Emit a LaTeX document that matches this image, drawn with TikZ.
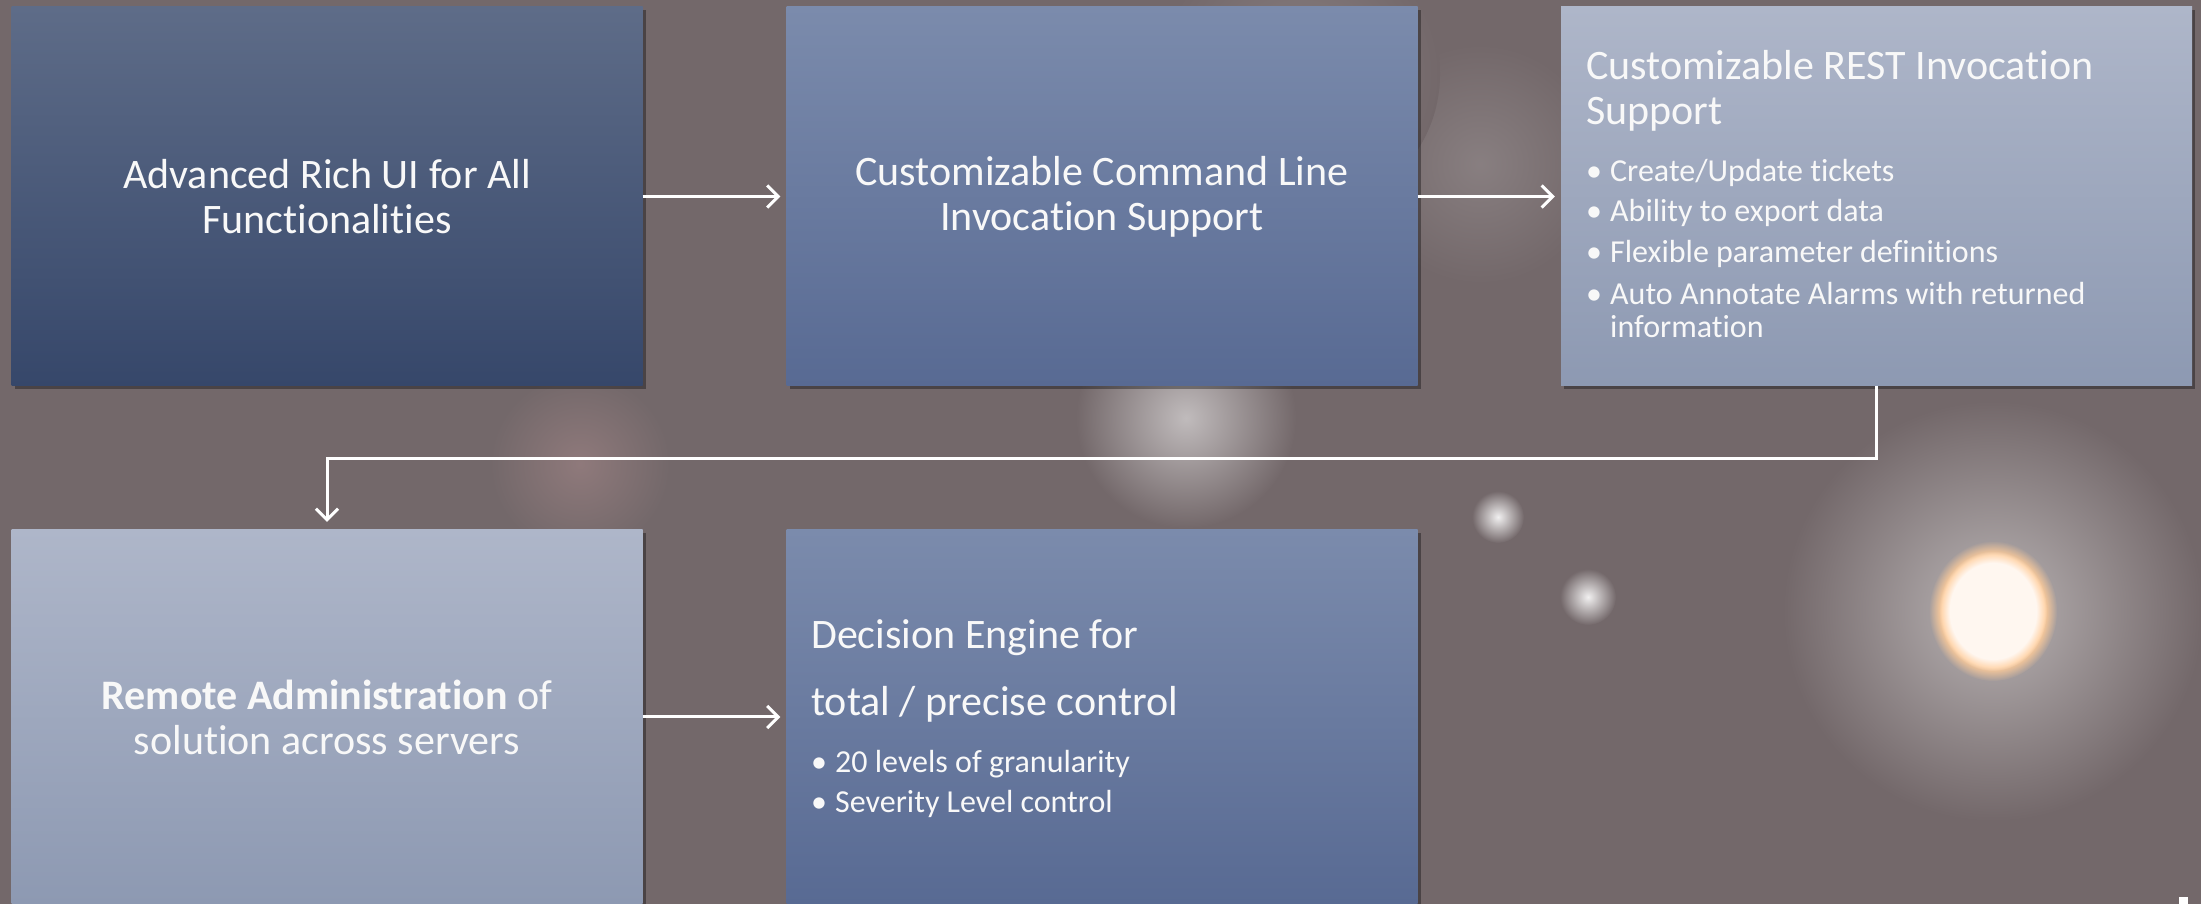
\documentclass[tikz,border=0pt]{standalone}
\usepackage{fontspec}
\setmainfont{Carlito}[Ligatures={NoCommon}]
\usetikzlibrary{arrows.meta,shadows,fadings}
\definecolor{bgc}{HTML}{73686A}
\definecolor{darkTop}{HTML}{5E6C88}
\definecolor{darkBot}{HTML}{36476A}
\definecolor{midTop}{HTML}{7B8BAC}
\definecolor{midBot}{HTML}{586A93}
\definecolor{lightTop}{HTML}{AEB6C9}
\definecolor{lightBot}{HTML}{8D99B2}
\definecolor{txt}{HTML}{F8F8F8}
\begin{document}
\begin{tikzpicture}[x=1pt,y=1pt,
  boxbase/.style={rectangle, inner sep=0pt, draw=none,
    drop shadow={shadow xshift=3pt, shadow yshift=-3pt, opacity=0.35, fill=black}},
  topbox/.style={boxbase, minimum width=631pt, minimum height=379pt},
  botbox/.style={boxbase, minimum width=631pt, minimum height=374pt},
  darkfill/.style={top color=darkTop, bottom color=darkBot},
  midfill/.style={top color=midTop, bottom color=midBot},
  lightfill/.style={top color=lightTop, bottom color=lightBot},
  bigtxt/.style={text=txt, font=\fontsize{42}{45}\selectfont, align=center},
  headtxt/.style={text=txt, font=\fontsize{42}{45}\selectfont, anchor=base west, inner sep=0pt},
  itemtxt/.style={text=txt, font=\fontsize{32}{34}\selectfont, anchor=base west, inner sep=0pt},
  flow/.style={draw=white, line width=3pt, -{Straight Barb[length=11pt,width=22pt]}},
  glow/.style={inner color=#1, outer color=bgc},
  spotcore/.style={fill=#1, path fading=circle with fuzzy edge 20 percent}
]
% background
\fill[bgc] (0,0) rectangle (2201,904);
\useasboundingbox (0,0) rectangle (2201,904);
% soft lights of the backdrop
\shade[glow=bgc!50!white] (1993,293) circle (210);
\fill[spotcore=orange!40!white] (1993,293) ellipse (64 and 70);
\fill[spotcore=white!94!orange] (1993,293) ellipse (54 and 60);
\shade[glow=bgc!45!white] (1186,486) circle (110);
\shade[glow=white!90!bgc] (1498,387) circle (26);
\shade[glow=white!90!bgc] (1588,307) circle (28);
\shade[glow=bgc!85!white] (1480,740) circle (120);
\shade[glow=bgc!80!pink] (580,440) circle (90);
\shade[glow=bgc!85!white] (1300,830) circle (140);

% boxes
\node[topbox, darkfill] (b1) at (327,707.5) {};
\node[topbox, midfill]  (b2) at (1102,707.5) {};
\node[topbox, lightfill] (b3) at (1876.5,707.5) {};
\node[botbox, lightfill] (b4) at (327,187) {};
\node[botbox, midfill]  (b5) at (1102,187) {};

% texts
\node[bigtxt] (t1) at (b1.center) {Advanced Rich UI for All\\Functionalities};
\node[bigtxt] (t2) at (b2.center) {Customizable Command Line\\Invocation Support};
\node[bigtxt] (t4) at (b4.center) {\textbf{Remote Administration} of\\solution across servers};

\node[headtxt] (t3a) at (1586,824) {Customizable REST Invocation};
\node[headtxt] (t3b) at (1586,779) {Support};
\node[itemtxt] (t3c) at (1586,722) {\makebox[24pt][l]{•}Create/Update tickets};
\node[itemtxt] (t3d) at (1586,682) {\makebox[24pt][l]{•}Ability to export data};
\node[itemtxt] (t3e) at (1586,641) {\makebox[24pt][l]{•}Flexible parameter definitions};
\node[itemtxt] (t3f) at (1586,599) {\makebox[24pt][l]{•}Auto Annotate Alarms with returned};
\node[itemtxt] (t3g) at (1610,566) {information};

\node[headtxt] (t5a) at (811,255) {Decision Engine for};
\node[headtxt] (t5b) at (811,188) {total / precise control};
\node[itemtxt] (t5c) at (811,131) {\makebox[24pt][l]{•}20 levels of granularity};
\node[itemtxt] (t5d) at (811,91) {\makebox[24pt][l]{•}Severity Level control};

% connectors
\draw[flow, shorten >=6pt] (b1.east) -- (b2.west);
\draw[flow, shorten >=6pt] (b2.east) -- (b3.west);
\draw[flow, shorten >=8pt] (b3.south) -- ++(0,-72) -| (b4.north);
\draw[flow, shorten >=6pt] (b4.east) -- (b5.west);

% corner mark
\fill[white] (2179,0) rectangle (2188,7);
\end{tikzpicture}
\end{document}
